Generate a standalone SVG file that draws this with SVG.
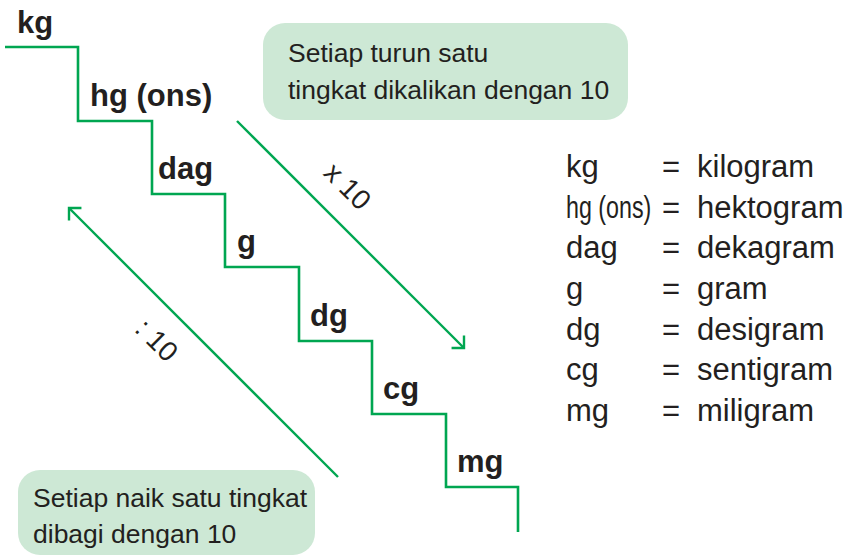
<svg xmlns="http://www.w3.org/2000/svg" width="848" height="555" viewBox="0 0 848 555">
<style>
.stair{fill:none;stroke:#00a651;stroke-width:2.6;stroke-linejoin:miter}
.arr{fill:none;stroke:#00a651;stroke-width:2.4}
.lbl{font-family:"Liberation Sans",Arial,sans-serif;font-weight:bold;font-size:31px;fill:#231f20}
.box{fill:#cde8d5}
.bt{font-family:"Liberation Sans",Arial,sans-serif;font-size:26.5px;fill:#231f20}
.lg{font-family:"Liberation Sans",Arial,sans-serif;font-size:31px;fill:#231f20}
.rl{font-family:"Liberation Sans",Arial,sans-serif;font-size:28px;fill:#231f20}
</style>
<defs>
<marker id="ah" markerUnits="userSpaceOnUse" markerWidth="30" markerHeight="30" refX="0" refY="0" viewBox="-15 -15 30 30" orient="auto" overflow="visible">
<path d="M-8.8,-8.8 L0,0 L-8.8,8.8" fill="none" stroke="#00a651" stroke-width="2.4"/>
</marker>
</defs>
<g id="staircase">
<path class="stair" d="M5,47 H78 V121 H152 V194 H225 V267 H299 V341 H372 V414 H446 V487 H518 V532"/>
</g>
<g id="node-kg"><text class="lbl" x="17" y="33">kg</text></g>
<g id="node-hg"><text class="lbl" x="90" y="106">hg (ons)</text></g>
<g id="node-dag"><text class="lbl" x="158" y="179">dag</text></g>
<g id="node-g"><text class="lbl" x="237" y="252">g</text></g>
<g id="node-dg"><text class="lbl" x="310" y="326">dg</text></g>
<g id="node-cg"><text class="lbl" x="383" y="399">cg</text></g>
<g id="node-mg"><text class="lbl" x="457" y="472">mg</text></g>
<g id="connectors">
<line class="arr" x1="237" y1="121" x2="464" y2="348" marker-end="url(#ah)"/>
<line class="arr" x1="338" y1="477" x2="69" y2="208" marker-end="url(#ah)"/>
<text class="rl" text-anchor="middle" transform="translate(348,186) rotate(45)" y="10">x 10</text>
<text class="rl" text-anchor="middle" transform="translate(157,340) rotate(45)" y="10">: 10</text>
</g>
<g id="box-down">
<rect class="box" x="263" y="23" width="365" height="97" rx="22"/>
<text class="bt" x="288" y="62">Setiap turun satu</text>
<text class="bt" x="288" y="99">tingkat dikalikan dengan 10</text>
</g>
<g id="box-up">
<rect class="box" x="18" y="470" width="297" height="85" rx="22"/>
<text class="bt" x="33" y="507">Setiap naik satu tingkat</text>
<text class="bt" x="33" y="543">dibagi dengan 10</text>
</g>
<g id="legend">
<text class="lg" x="566" y="177">kg</text><text class="lg" x="662" y="177">=</text><text class="lg" x="697" y="177">kilogram</text>
<text class="lg" transform="translate(566,218) scale(0.75,1)">hg (ons)</text><text class="lg" x="662" y="218">=</text><text class="lg" x="697" y="218">hektogram</text>
<text class="lg" x="566" y="258">dag</text><text class="lg" x="662" y="258">=</text><text class="lg" x="697" y="258">dekagram</text>
<text class="lg" x="566" y="299">g</text><text class="lg" x="662" y="299">=</text><text class="lg" x="697" y="299">gram</text>
<text class="lg" x="566" y="340">dg</text><text class="lg" x="662" y="340">=</text><text class="lg" x="697" y="340">desigram</text>
<text class="lg" x="566" y="380">cg</text><text class="lg" x="662" y="380">=</text><text class="lg" x="697" y="380">sentigram</text>
<text class="lg" x="566" y="421">mg</text><text class="lg" x="662" y="421">=</text><text class="lg" x="697" y="421">miligram</text>
</g>
</svg>
